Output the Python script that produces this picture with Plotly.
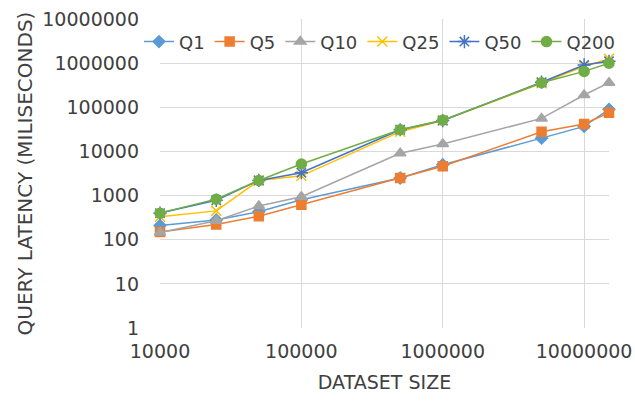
import plotly.graph_objects as go

dataset_size = [10000, 25000, 50000, 100000, 500000, 1000000, 5000000, 10000000, 15000000]

q1 = [210, 280, 430, 800, 2500, 5000, 20000, 37000, 90000]
q5 = [150, 220, 340, 620, 2500, 4600, 28000, 42000, 75000]
q10 = [145, 270, 580, 940, 9100, 14700, 56000, 190000, 360000]
q25 = [330, 450, 2200, 2800, 28000, 50000, 350000, 850000, 1250000]
q50 = [400, 780, 2200, 3300, 31000, 50000, 370000, 910000, 1100000]
q200 = [400, 830, 2200, 5200, 31000, 51000, 360000, 650000, 1000000]

y_tickvals = [1, 10, 100, 1000, 10000, 100000, 1000000, 10000000]
y_ticktext = ["1", "10", "100", "1000", "10000", "100000", "1000000", "10000000"]
x_tickvals = [10000, 100000, 1000000, 10000000]
x_ticktext = ["10000", "100000", "1000000", "10000000"]

series = [
    ("Q1", q1, "#5B9BD5", "diamond", 9),
    ("Q5", q5, "#ED7D31", "square", 9),
    ("Q10", q10, "#A5A5A5", "triangle-up", 10),
    ("Q25", q25, "#FFC000", "x-thin-open", 10),
    ("Q50", q50, "#4472C4", "asterisk-open", 11),
    ("Q200", q200, "#70AD47", "circle", 10),
]

fig = go.Figure()
for name, vals, color, sym, size in series:
    fig.add_trace(go.Scatter(
        x=dataset_size, y=vals, name=name, mode="lines+markers",
        line=dict(color=color, width=1.5), cliponaxis=False,
        marker=dict(symbol=sym, size=size, color=color,
                    line=dict(color=color, width=1.5)),
    ))

W, H = 635, 402
plot_left, plot_right = 160, 609
font_family = "DejaVu Sans"
text_color = "#404040"
fig.update_layout(
    width=W, height=H,
    margin=dict(l=0, r=0, t=19, b=74, autoexpand=False),
    paper_bgcolor="white", plot_bgcolor="white",
    font=dict(family=font_family, size=19, color=text_color),
    showlegend=True,
    legend=dict(orientation="h", x=380 / W, y=0.926, xanchor="center", yanchor="middle",
                bgcolor="rgba(0,0,0,0)", font=dict(size=18, color=text_color),
                itemwidth=30, tracegroupgap=0),
    xaxis=dict(type="log", range=[4, 7.1761], tickvals=x_tickvals, ticktext=x_ticktext,
               domain=[plot_left / W, plot_right / W], automargin=False,
               showgrid=True, gridcolor="#D9D9D9", gridwidth=1, zeroline=False,
               showline=False, ticks="", ticklen=0, ticklabelstandoff=10,
               ticklabeloverflow="allow",
               tickfont=dict(size=19, color=text_color),
               title=dict(text="DATASET SIZE", font=dict(size=19, color=text_color), standoff=14)),
    yaxis=dict(type="log", range=[0, 7], tickvals=y_tickvals, ticktext=y_ticktext,
               automargin=False,
               showgrid=True, gridcolor="#D9D9D9", gridwidth=1, zeroline=False,
               showline=False, ticks="", ticklen=0, ticklabelstandoff=20,
               ticklabeloverflow="allow",
               tickfont=dict(size=19, color=text_color),
               title=dict(text="QUERY LATENCY (MILISECONDS)", font=dict(size=20, color=text_color), standoff=4)),
)

fig.write_html("out.html")
